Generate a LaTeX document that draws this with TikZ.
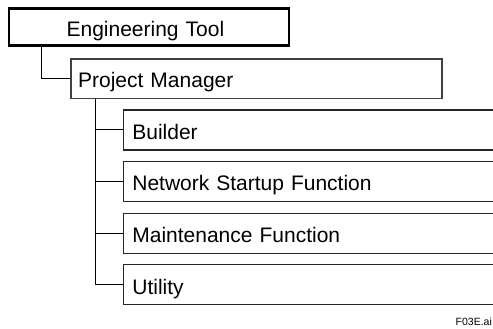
\documentclass[tikz,border=0pt]{standalone}
\usepackage{fontspec}
\setmainfont{Liberation Sans}
\begin{document}
\begin{tikzpicture}[x=1pt, y=-1pt,
  boxbase/.style={rectangle, align=left, anchor=north west, inner ysep=0pt,
    text height=18.5pt, text depth=0pt,
    font=\fontsize{21}{25}\selectfont},
  topbox/.style={boxbase, draw=black, line width=2.2pt,
    minimum width=280pt, minimum height=37pt, inner xsep=57.5pt, text width=165pt},
  pmbox/.style={boxbase, draw=black!75, line width=1.7pt,
    minimum width=371pt, minimum height=39.7pt, inner xsep=7.3pt, text width=356.4pt},
  subbox/.style={boxbase, draw=black!85, line width=1.3pt,
    minimum width=390pt, minimum height=40pt, inner xsep=8.7pt, text width=372.6pt},
  link/.style={draw=black, line width=1pt}
]
\useasboundingbox (0,0) rectangle (493,329);
\clip (0,0) rectangle (493,329);

% top level and project manager
\node[topbox] (et) at (8,7.5) {Engineering Tool};
\node[pmbox] (pm) at (70,58) {Project Manager};

% project manager functions (boxes run off to the right)
\node[subbox] (bld) at (123,109.3) {Builder};
\node[subbox] (net) at (123,160.9) {Network Startup Function};
\node[subbox] (mnt) at (123,212.5) {Maintenance Function};
\node[subbox] (utl) at (123,264.1) {Utility};

% tree connectors
\draw[link] ([xshift=33pt]et.south west) |- (pm.west);
\draw[link] ([xshift=25pt]pm.south west) |- (utl.west);
\draw[link] ([xshift=25pt]pm.south west) |- (bld.west);
\draw[link] ([xshift=25pt]pm.south west) |- (net.west);
\draw[link] ([xshift=25pt]pm.south west) |- (mnt.west);

% figure tag
\node[anchor=base west, inner sep=0pt, font=\fontsize{10.5}{12}\selectfont] (tag) at (455.5,325) {F03E.ai};
\end{tikzpicture}
\end{document}
